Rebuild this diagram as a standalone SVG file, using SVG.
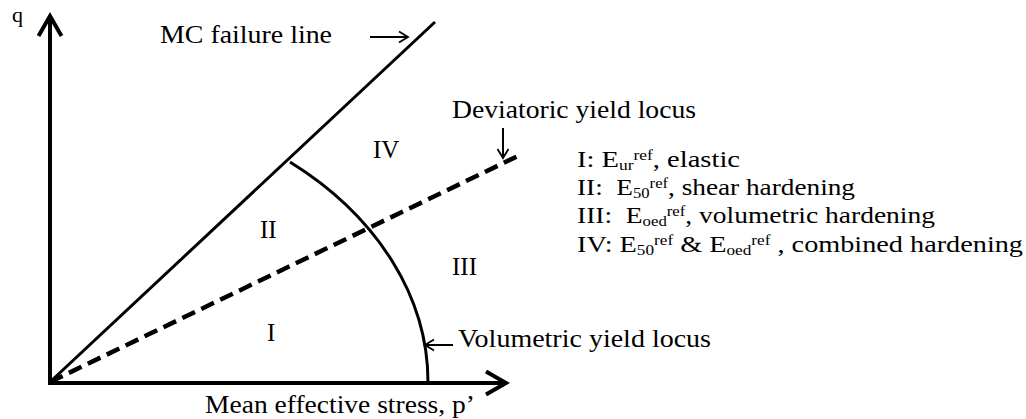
<svg xmlns="http://www.w3.org/2000/svg" width="1026" height="419" viewBox="0 0 1026 419">
  <style>
    text { font-family: 'Liberation Serif', Tinos, 'Times New Roman', Times, serif; fill: #000; }
    .lbl { font-size: 25px; }
    .leg { font-size: 23px; white-space: pre; }
    .ss { font-size: 14px; }
    .axis { stroke: #000; stroke-width: 4; fill: none; }
    .ptr { stroke: #000; stroke-width: 2; fill: none; }
  </style>
  <defs>
    <marker id="axisHead" markerUnits="userSpaceOnUse" viewBox="0 0 30 30" markerWidth="30" markerHeight="30" refX="22" refY="15" orient="auto">
      <path d="M2,3.5 L22,15 L2,26.5" fill="none" stroke="#000" stroke-width="4"/>
    </marker>
    <marker id="ptrHead" markerUnits="userSpaceOnUse" viewBox="0 0 14 14" markerWidth="14" markerHeight="14" refX="11" refY="7" orient="auto">
      <path d="M2,1.5 L11,7 L2,12.5" fill="none" stroke="#000" stroke-width="1.8"/>
    </marker>
  </defs>
  <rect width="1026" height="419" fill="#fff"/>

  <g id="connectors">
    <line id="q-axis" class="axis" x1="50" y1="385" x2="50" y2="16" marker-end="url(#axisHead)"/>
    <line id="p-axis" class="axis" x1="48" y1="383" x2="506" y2="383" marker-end="url(#axisHead)"/>
    <line id="mc-line" x1="50" y1="382" x2="435" y2="22" stroke="#000" stroke-width="3"/>
    <line id="dev-locus" x1="50" y1="382" x2="520" y2="155" stroke="#000" stroke-width="4.5" stroke-dasharray="14 7"/>
    <path id="vol-locus" d="M290,162 A378,285 0 0 1 428,383" fill="none" stroke="#000" stroke-width="3"/>
    <line class="ptr" x1="370" y1="37" x2="408" y2="37" marker-end="url(#ptrHead)"/>
    <line class="ptr" x1="503" y1="128" x2="503" y2="158" marker-end="url(#ptrHead)"/>
    <line class="ptr" x1="453" y1="345" x2="425" y2="345" marker-end="url(#ptrHead)"/>
  </g>

  <g id="axis-labels">
    <text font-family="Liberation Serif, serif" x="12" y="22" font-size="22">q</text>
    <text class="lbl" x="205" y="413" textLength="270" lengthAdjust="spacingAndGlyphs">Mean effective stress, p’</text>
  </g>

  <g id="line-labels">
    <text class="lbl" x="160" y="43" textLength="172" lengthAdjust="spacingAndGlyphs">MC failure line</text>
    <text class="lbl" x="452" y="118" textLength="244" lengthAdjust="spacingAndGlyphs">Deviatoric yield locus</text>
    <text class="lbl" x="458" y="347" textLength="253" lengthAdjust="spacingAndGlyphs">Volumetric yield locus</text>
  </g>

  <g id="regions">
    <text class="lbl" x="373" y="158">IV</text>
    <text class="lbl" x="260" y="238">II</text>
    <text class="lbl" x="452" y="275">III</text>
    <text class="lbl" x="267" y="341">I</text>
  </g>

  <g id="legend">
    <text class="leg" x="577" y="167" textLength="163" lengthAdjust="spacingAndGlyphs" xml:space="preserve">I: E<tspan class="ss" dy="3">ur</tspan><tspan class="ss" dy="-10">ref</tspan><tspan dy="7">, elastic</tspan></text>
    <text class="leg" x="577" y="195" textLength="278" lengthAdjust="spacingAndGlyphs" xml:space="preserve">II:  E<tspan class="ss" dy="3">50</tspan><tspan class="ss" dy="-10">ref</tspan><tspan dy="7">, shear hardening</tspan></text>
    <text class="leg" x="577" y="223" textLength="358" lengthAdjust="spacingAndGlyphs" xml:space="preserve">III:  E<tspan class="ss" dy="3">oed</tspan><tspan class="ss" dy="-10">ref</tspan><tspan dy="7">, volumetric hardening</tspan></text>
    <text class="leg" x="577" y="252" textLength="446" lengthAdjust="spacingAndGlyphs" xml:space="preserve">IV: E<tspan class="ss" dy="3">50</tspan><tspan class="ss" dy="-10">ref</tspan><tspan dy="7"> &amp; E</tspan><tspan class="ss" dy="3">oed</tspan><tspan class="ss" dy="-10">ref</tspan><tspan dy="7"> , combined hardening</tspan></text>
  </g>
</svg>
